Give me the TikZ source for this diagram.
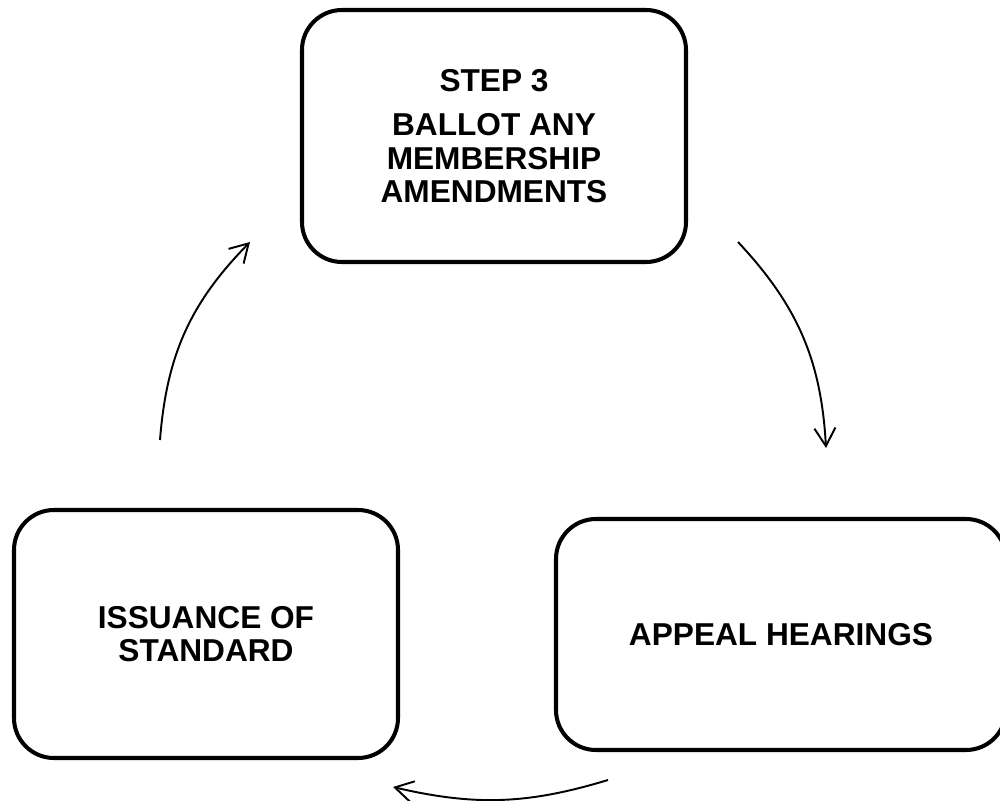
\documentclass[tikz,border=0pt]{standalone}
\usepackage{fontspec}
\setmainfont{Liberation Sans}
\usetikzlibrary{positioning,arrows.meta}
\tikzset{
	>={Straight Barb[length=3.6mm,width=4.2mm]},
	stagebox/.style={
		rectangle,
		rounded corners=0.8cm,
		draw=black, line width=2.3pt,
		align=center,
		font=\fontsize{18}{19}\selectfont\bfseries},
	cycleline/.style={draw, line width=1.1pt, ->},
}

\begin{document}
\begin{tikzpicture}
\useasboundingbox (0,0) rectangle (20,-16.02);
\node[stagebox, minimum width=7.68cm, minimum height=5.04cm] (ballot) at (9.88,-2.72)
	{STEP 3\\[0.22cm] BALLOT ANY\\ MEMBERSHIP\\ AMENDMENTS};
\node[stagebox, minimum width=9.0cm, minimum height=4.62cm] (appeal) at (15.62,-12.69)
	{APPEAL HEARINGS};
\node[stagebox, minimum width=7.68cm, minimum height=4.96cm] (issue) at (4.12,-12.68)
	{ISSUANCE OF\\ STANDARD};

% free ends of the cycle arrows
\coordinate (a1) at (3.2,-8.8);
\coordinate (b1) at (5.0,-4.84);
\coordinate (a2) at (14.76,-4.84);
\coordinate (b2) at (16.52,-8.96);
\coordinate (a3) at (12.16,-15.6);
\coordinate (b3) at (7.86,-15.74);

\draw[cycleline] (a1) to[bend left=20] (b1);
\draw[cycleline] (a2) to[bend left=20] (b2);
\draw[cycleline] (a3) to[bend left=15] (b3);
\end{tikzpicture}
\end{document}
